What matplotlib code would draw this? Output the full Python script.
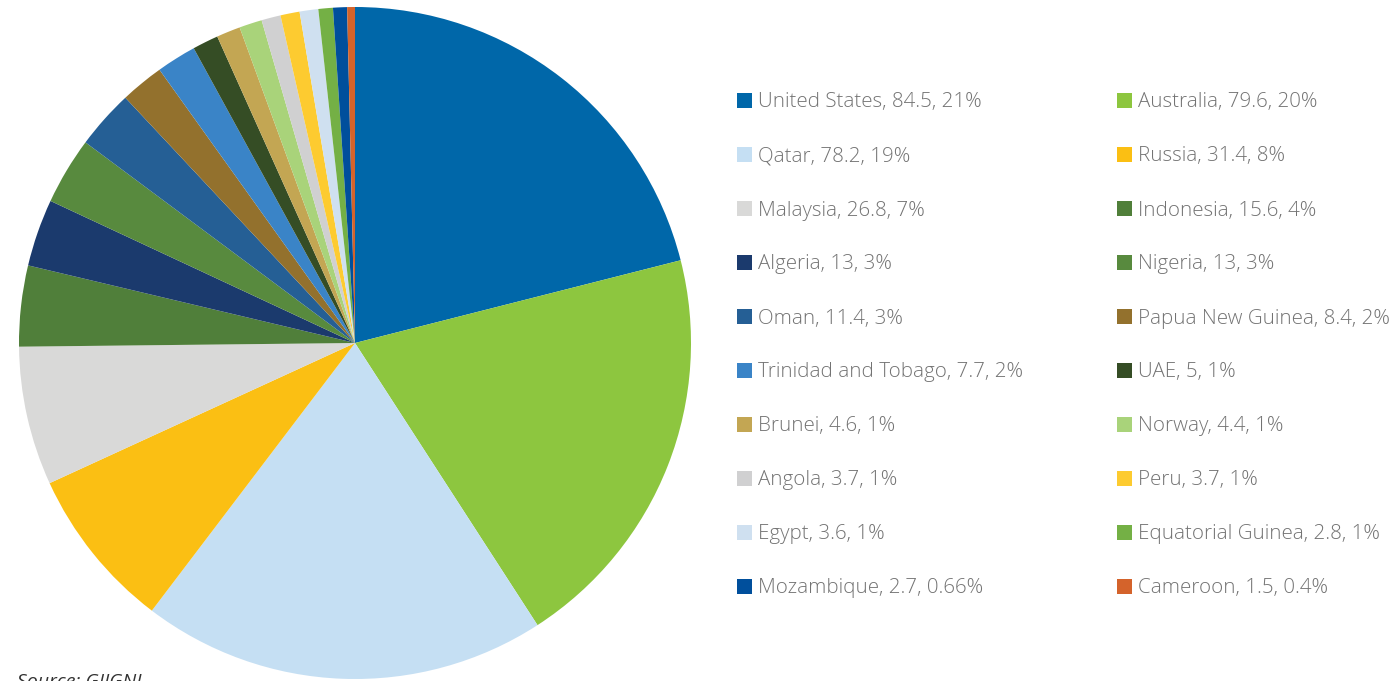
import matplotlib
matplotlib.use("Agg")
import matplotlib.pyplot as plt
from matplotlib.patches import Rectangle

countries = ["United States", "Australia", "Qatar", "Russia", "Malaysia", "Indonesia",
             "Algeria", "Nigeria", "Oman", "Papua New Guinea", "Trinidad and Tobago", "UAE",
             "Brunei", "Norway", "Angola", "Peru", "Egypt", "Equatorial Guinea",
             "Mozambique", "Cameroon"]
values = [84.5, 79.6, 78.2, 31.4, 26.8, 15.6, 13, 13, 11.4, 8.4, 7.7, 5,
          4.6, 4.4, 3.7, 3.7, 3.6, 2.8, 2.7, 1.5]
value_labels = ["84.5", "79.6", "78.2", "31.4", "26.8", "15.6", "13", "13", "11.4", "8.4",
                "7.7", "5", "4.6", "4.4", "3.7", "3.7", "3.6", "2.8", "2.7", "1.5"]
pct_labels = ["21%", "20%", "19%", "8%", "7%", "4%", "3%", "3%", "3%", "2%", "2%", "1%",
              "1%", "1%", "1%", "1%", "1%", "1%", "0.66%", "0.4%"]
colors = ["#0067a9", "#8dc63f", "#c5dff3", "#fbbf13", "#d9d9d8", "#507f3a",
          "#1b3a6d", "#588a3e", "#255f95", "#93712d", "#3a84c7", "#354d25",
          "#c3a653", "#a9d37a", "#d0d0d1", "#fdcb30", "#cfe0f0", "#74b045",
          "#004f9c", "#d4632b"]

W, H = 1395, 681
fig = plt.figure(figsize=(W / 100, H / 100), dpi=100)

cx, cy, r = 355, 343, 336
ax = fig.add_axes([(cx - r) / W, (H - cy - r) / H, 2 * r / W, 2 * r / H])
ax.pie(values, colors=colors, startangle=90, counterclock=False, radius=1,
       wedgeprops=dict(linewidth=0))
ax.set_xlim(-1, 1)
ax.set_ylim(-1, 1)
ax.set_aspect("equal")
ax.axis("off")

text_color = "#737373"
col_x = [737, 1117]
row_y0, row_dy = 100, 54
sq = 15
for i, (c, v, p, col) in enumerate(zip(countries, value_labels, pct_labels, colors)):
    row, colidx = divmod(i, 2)
    x = col_x[colidx]
    y = row_y0 + row * row_dy
    fig.patches.append(Rectangle((x / W, (H - y - sq / 2) / H), sq / W, sq / H,
                                 transform=fig.transFigure, facecolor=col,
                                 edgecolor="none"))
    fig.text((x + 21) / W, (H - y) / H, f"{c}, {v}, {p}", fontsize=14.8,
             family=["Open Sans", "DejaVu Sans"], weight="light", color=text_color,
             va="center_baseline", ha="left")

fig.text(17 / W, (H - 673) / H, "Source: GIIGNL", fontsize=14, style="italic",
         family=["Open Sans", "DejaVu Sans"], color="#333333", va="top", ha="left")

fig.savefig("out.png", dpi=100, facecolor="white")
